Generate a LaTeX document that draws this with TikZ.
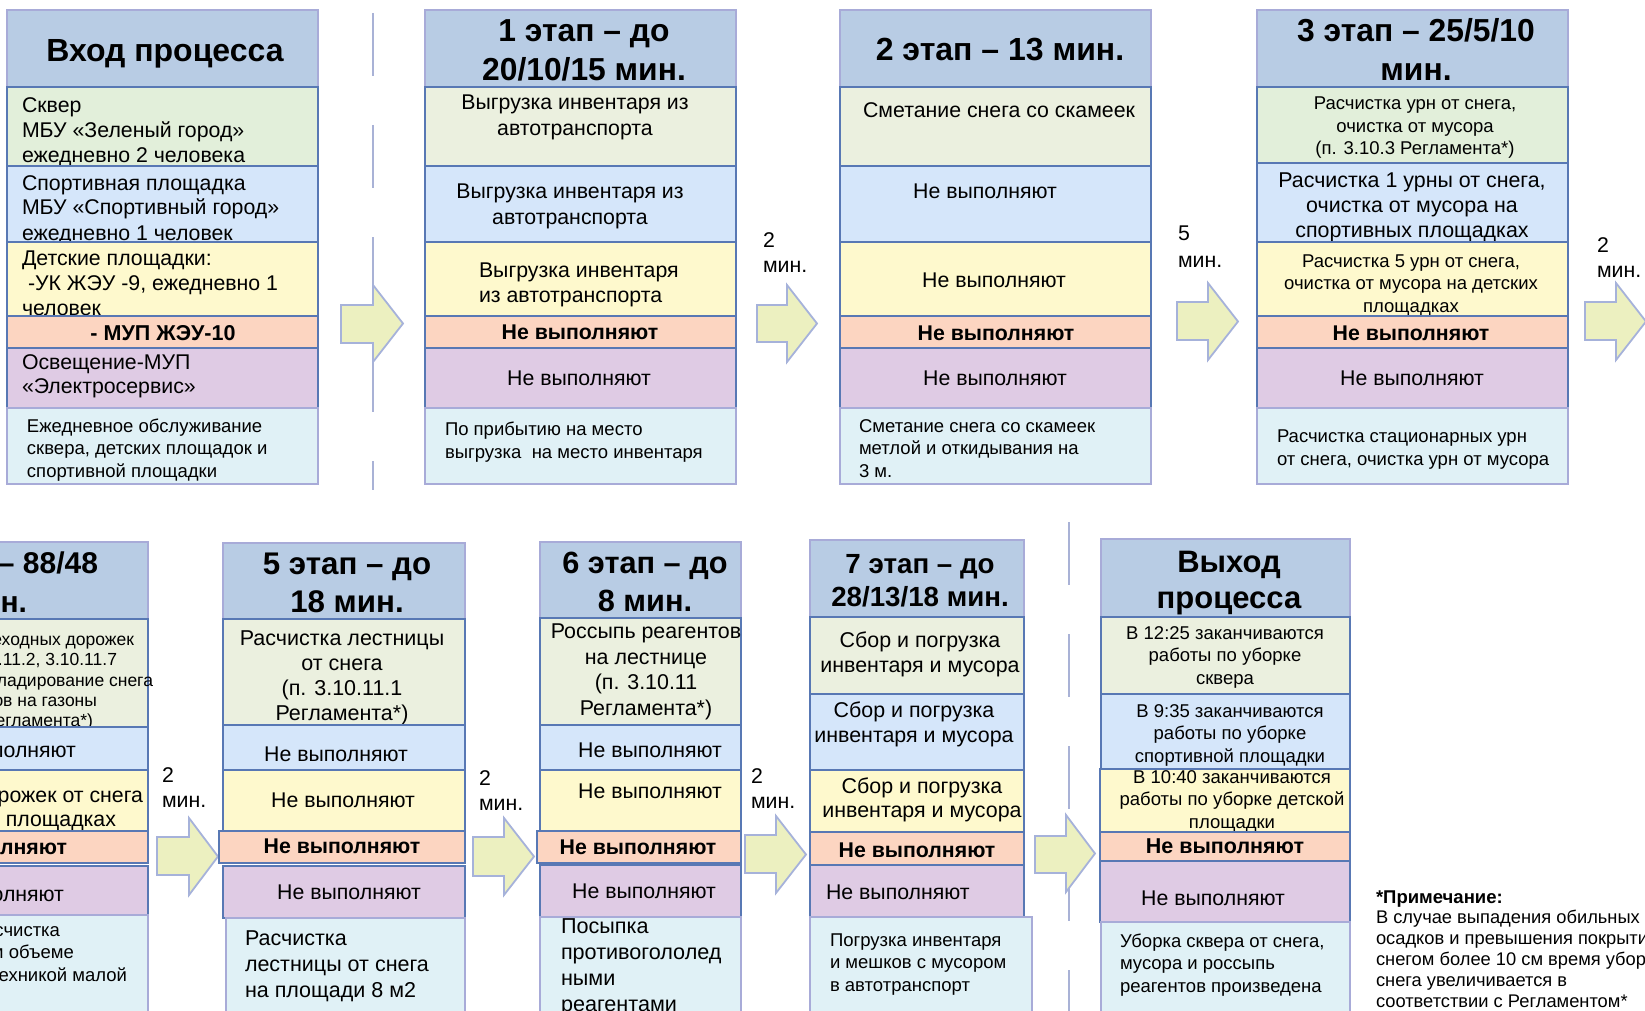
\documentclass[tikz,border=0pt]{standalone}
\usepackage{fontspec}
\setmainfont{Liberation Sans}
\definecolor{hdrfill}{HTML}{B8CCE4}
\definecolor{hdrline}{HTML}{A8ABD8}
\definecolor{grnA}{HTML}{E2EFDA}
\definecolor{grnB}{HTML}{EBF0DF}
\definecolor{bluf}{HTML}{D5E6FA}
\definecolor{yelf}{HTML}{FEF9CD}
\definecolor{orgf}{HTML}{FCD5C1}
\definecolor{purf}{HTML}{DFCBE4}
\definecolor{cynf}{HTML}{E0F1F6}
\definecolor{bandline}{HTML}{5878B4}
\definecolor{arrf}{HTML}{ECF0C0}
\definecolor{arrl}{HTML}{A6B2DA}
\definecolor{sepl}{HTML}{A9B2D6}
\newcommand\fsz[2]{\fontsize{#1}{#2}\selectfont}
\newcommand\blkarrow[7]{\draw[barrow] (#1,#4) -- (#2,#4) -- (#2,#6) -- (#3,{(#6+#7)/2}) -- (#2,#7) -- (#2,#5) -- (#1,#5) -- cycle;}
\begin{document}
\begin{tikzpicture}[x=1pt,y=-1pt,
  hdr/.style={fill=hdrfill,draw=hdrline,line width=1.8pt},
  bnd/.style={draw=bandline,line width=1.1pt},
  cyn/.style={fill=cynf,draw=hdrline,line width=1.8pt},
  barrow/.style={fill=arrf,draw=arrl,line width=1.8pt,line join=miter},
  sepline/.style={draw=sepl,line width=2pt,dash pattern=on 63pt off 49pt},
  txt/.style={inner sep=0pt,outer sep=0pt,font=\fsz{21.3}{25}},
  tc/.style={txt,anchor=base,align=center},
  tl/.style={txt,anchor=base west,align=left},
  tr/.style={txt,anchor=base east,align=right},
  hf/.style={font=\bfseries\fsz{31.8}{39}},
  bf/.style={font=\bfseries\fsz{21.3}{24}},
  sm/.style={font=\fsz{18.5}{22.5}}
]
% note: y of a multi-line node = baseline of its LAST line
\useasboundingbox (0,0) rectangle (1645,1011);
\clip (0,0) rectangle (1645,1011);

% separators
\draw[sepline] (373,13) -- (373,490);
\draw[sepline] (1069,522) -- (1069,1040);

% ---------- Column A: input ----------
\draw[hdr] (7,10) rectangle (318,87);
\node[tc,font=\bfseries\fsz{32}{38}] (aH) at (165,62) {Вход процесса};
\draw[bnd,fill=grnA] (7,87) rectangle (318,166);
\node[tl] (aG) at (22,163) {Сквер\\МБУ «Зеленый город»\\ежедневно 2 человека};
\draw[bnd,fill=bluf] (7,166) rectangle (318,242);
\node[tl] (aB) at (22,240) {Спортивная площадка\\МБУ «Спортивный город»\\ежедневно 1 человек};
\draw[bnd,fill=yelf] (7,242) rectangle (318,316);
\node[tl] (aY) at (22,315) {Детские площадки:\\\hspace*{6pt}-УК ЖЭУ -9, ежедневно 1\\человек};
\draw[bnd,fill=orgf] (7,316) rectangle (318,348);
\node[tc,font=\bfseries\fsz{21.5}{25}] (aO) at (163,340) {- МУП ЖЭУ-10};
\draw[bnd,fill=purf] (7,348) rectangle (318,408);
\node[tl,font=\fsz{21.3}{24}] (aP) at (22,393) {Освещение-МУП\\«Электросервис»};
\draw[cyn] (7,408) rectangle (318,484);
\node[tl,sm] (aC) at (27,477) {Ежедневное обслуживание\\сквера, детских площадок и\\спортивной площадки};

\blkarrow{341}{373}{403}{305}{343}{285}{362}

% ---------- Column 1 ----------
\draw[hdr] (425,10) rectangle (736,87);
\node[tc,hf] (b1H) at (584,81) {1 этап – до\\20/10/15 мин.};
\draw[bnd,fill=grnB] (425,87) rectangle (736,166);
\node[tc,font=\fsz{21.3}{26}] (b1G) at (575,136) {Выгрузка инвентаря из\\автотранспорта};
\draw[bnd,fill=bluf] (425,166) rectangle (736,242);
\node[tc,font=\fsz{21.3}{26}] (b1B) at (570,224) {Выгрузка инвентаря из\\автотранспорта};
\draw[bnd,fill=yelf] (425,242) rectangle (736,316);
\node[tl] (b1Y) at (479,302) {Выгрузка инвентаря\\из автотранспорта};
\draw[bnd,fill=orgf] (425,316) rectangle (736,348);
\node[tc,bf] (b1O) at (580,339) {Не выполняют};
\draw[bnd,fill=purf] (425,348) rectangle (736,408);
\node[tc] (b1P) at (579,385) {Не выполняют};
\draw[cyn] (425,408) rectangle (736,484);
\node[tl,sm] (b1C) at (445,458) {По прибытию на место\\выгрузка\ \ на место инвентаря};

\node[tl] (m1) at (763,272) {2\\мин.};
\blkarrow{757}{787}{817}{305}{342}{285}{362}

% ---------- Column 2 ----------
\draw[hdr] (840,10) rectangle (1151,87);
\node[tc,font=\bfseries\fsz{32}{38}] (b2H) at (1000,61) {2 этап – 13 мин.};
\draw[bnd,fill=grnB] (840,87) rectangle (1151,166);
\node[tc] (b2G) at (999,118) {Сметание снега со скамеек};
\draw[bnd,fill=bluf] (840,166) rectangle (1151,242);
\node[tc] (b2B) at (985,198) {Не выполняют};
\draw[bnd,fill=yelf] (840,242) rectangle (1151,316);
\node[tc] (b2Y) at (994,287) {Не выполняют};
\draw[bnd,fill=orgf] (840,316) rectangle (1151,348);
\node[tc,bf] (b2O) at (996,340) {Не выполняют};
\draw[bnd,fill=purf] (840,348) rectangle (1151,408);
\node[tc] (b2P) at (995,385) {Не выполняют};
\draw[cyn] (840,408) rectangle (1151,484);
\node[tl,sm] (b2C) at (859,477) {Сметание снега со скамеек\\метлой и откидывания на\\3 м.};

\node[tl,font=\fsz{21.3}{27}] (m2) at (1178,267) {5\\мин.};
\blkarrow{1177}{1208}{1238}{302}{340}{283}{360}

% ---------- Column 3 ----------
\draw[hdr] (1257,10) rectangle (1568,87);
\node[tc,hf] (b3H) at (1416,81) {3 этап – 25/5/10\\мин.};
\draw[bnd,fill=grnA] (1257,87) rectangle (1568,163);
\node[tc,sm] (b3G) at (1415,155) {Расчистка урн от снега,\\очистка от мусора\\(п. 3.10.3 Регламента*)};
\draw[bnd,fill=bluf] (1257,163) rectangle (1568,242);
\node[tc,font=\fsz{21.4}{25}] (b3B) at (1412,237) {Расчистка 1 урны от снега,\\очистка от мусора на\\спортивных площадках};
\draw[bnd,fill=yelf] (1257,242) rectangle (1568,316);
\node[tc,sm] (b3Y) at (1411,312) {Расчистка 5 урн от снега,\\очистка от мусора на детских\\площадках};
\draw[bnd,fill=orgf] (1257,316) rectangle (1568,348);
\node[tc,bf] (b3O) at (1411,340) {Не выполняют};
\draw[bnd,fill=purf] (1257,348) rectangle (1568,408);
\node[tc] (b3P) at (1412,385) {Не выполняют};
\draw[cyn] (1257,408) rectangle (1568,484);
\node[tl,sm] (b3C) at (1277,465) {Расчистка стационарных урн\\от снега, очистка урн от мусора};

\node[tl] (m3) at (1597,277) {2\\мин.};
\blkarrow{1585}{1616}{1646}{302}{340}{283}{360}

% ---------- Column 4 (cut) ----------
\draw[hdr] (-150,542) rectangle (148,619);
\node[tr,font=\bfseries\fsz{30}{39}] (b4H1) at (98,573) {4 этап – 88/48};
\node[tr,font=\bfseries\fsz{30}{39}] (b4H2) at (27,612) {мин.};
\draw[bnd,fill=grnB] (-150,619) rectangle (148,727);
\node[tr,font=\fsz{17.5}{20}] (b4G1) at (134,645) {Расчистка пешеходных дорожек};
\node[tr,font=\fsz{17.5}{20}] (b4G2) at (117,665) {(п. 3.10.11.2, 3.10.11.7};
\node[tr,font=\fsz{17.5}{20}] (b4G3) at (153,686) {складирование снега};
\node[tr,font=\fsz{17.5}{20}] (b4G4) at (97,706) {тротуаров на газоны};
\node[tr,font=\fsz{17.5}{20}] (b4G5) at (93,726) {Регламента*)};
\draw[bnd,fill=bluf] (-150,727) rectangle (148,770);
\node[tr] (b4B) at (76,757) {Не выполняют};
\draw[bnd,fill=yelf] (-150,770) rectangle (148,831);
\node[tr] (b4Y1) at (143,802) {Расчистка дорожек от снега};
\node[tr] (b4Y2) at (116,826) {на детских площадках};
\draw[bnd,fill=orgf] (-150,831) rectangle (148,863);
\node[tr,bf] (b4O) at (67,854) {Не выполняют};
\draw[bnd,fill=purf] (-150,866) rectangle (148,915);
\node[tr] (b4P) at (64,901) {Не выполняют};
\draw[cyn] (-150,915) rectangle (148,1030);
\node[tr,sm] (b4C1) at (60,936) {Расчистка};
\node[tr,sm] (b4C2) at (74,958) {в полном объеме};
\node[tr,sm] (b4C3) at (127,981) {техникой малой};

\node[tl] (m4) at (162,807) {2\\мин.};
\blkarrow{157}{189}{218}{837}{875}{818}{895}

% ---------- Column 5 ----------
\draw[hdr] (223,543) rectangle (465,619);
\node[tc,font=\bfseries\fsz{31.3}{38}] (b5H) at (347,612) {5 этап – до\\18 мин.};
\draw[bnd,fill=grnB] (223,619) rectangle (465,725);
\node[tc,font=\fsz{21.5}{25}] (b5G) at (342,720) {Расчистка лестницы\\от снега\\(п. 3.10.11.1\\Регламента*)};
\draw[bnd,fill=bluf] (223,725) rectangle (465,770);
\node[tc] (b5B) at (336,761) {Не выполняют};
\draw[bnd,fill=yelf] (223,770) rectangle (465,831);
\node[tc] (b5Y) at (343,807) {Не выполняют};
\draw[bnd,fill=orgf] (219,831) rectangle (465,863);
\node[tc,bf] (b5O) at (342,853) {Не выполняют};
\draw[bnd,fill=purf] (223,866) rectangle (465,918);
\node[tc] (b5P) at (349,899) {Не выполняют};
\draw[cyn] (226,918) rectangle (465,1030);
\node[tl,font=\fsz{21.5}{26}] (b5C) at (245,997) {Расчистка\\лестницы от снега\\на площади 8 м2};

\node[tl] (m5) at (479,810) {2\\мин.};
\blkarrow{473}{504}{534}{837}{876}{818}{895}

% ---------- Column 6 ----------
\draw[hdr] (540,542) rectangle (741,618);
\node[tc,font=\bfseries\fsz{30.7}{38}] (b6H) at (645,611) {6 этап – до\\8 мин.};
\draw[bnd,fill=grnB] (540,618) rectangle (741,725);
\node[tc,font=\fsz{21.4}{25.5}] (b6G) at (646,715) {Россыпь реагентов\\на лестнице\\(п. 3.10.11\\Регламента*)};
\draw[bnd,fill=bluf] (540,725) rectangle (741,770);
\node[tc] (b6B) at (650,757) {Не выполняют};
\draw[bnd,fill=yelf] (540,770) rectangle (741,831);
\node[tc] (b6Y) at (650,798) {Не выполняют};
\draw[bnd,fill=orgf] (537,831) rectangle (741,863);
\node[tc,bf] (b6O) at (638,854) {Не выполняют};
\draw[bnd,fill=purf] (540,865) rectangle (741,917);
\node[tc] (b6P) at (644,898) {Не выполняют};
\draw[cyn] (540,917) rectangle (741,1030);
\node[tl,font=\fsz{21.6}{26}] (b6C) at (561,1011) {Посыпка\\противогололед\\ными\\реагентами};

\node[tl] (m6) at (751,808) {2\\мин.};
\blkarrow{745}{776}{806}{835}{873}{816}{893}

% ---------- Column 7 ----------
\draw[hdr] (810,540) rectangle (1024,617);
\node[tc,font=\bfseries\fsz{27.7}{33}] (b7H) at (920,606) {7 этап – до\\28/13/18 мин.};
\draw[bnd,fill=grnB] (810,617) rectangle (1024,694);
\node[tc,font=\fsz{21.4}{25}] (b7G) at (920,672) {Сбор и погрузка\\инвентаря и мусора};
\draw[bnd,fill=bluf] (810,694) rectangle (1024,770);
\node[tc,font=\fsz{21.4}{25}] (b7B) at (914,742) {Сбор и погрузка\\инвентаря и мусора};
\draw[bnd,fill=yelf] (810,770) rectangle (1024,832);
\node[tc,font=\fsz{21.4}{24}] (b7Y) at (922,817) {Сбор и погрузка\\инвентаря и мусора};
\draw[bnd,fill=orgf] (810,832) rectangle (1024,865);
\node[tc,bf] (b7O) at (917,857) {Не выполняют};
\draw[bnd,fill=purf] (810,865) rectangle (1024,917);
\node[tl] (b7P) at (826,899) {Не выполняют};
\draw[cyn] (810,917) rectangle (1032,1030);
\node[tl,sm] (b7C) at (830,991) {Погрузка инвентаря\\и мешков с мусором\\в автотранспорт};

\blkarrow{1035}{1066}{1095}{836}{873}{815}{892}

% ---------- Exit column ----------
\draw[hdr] (1101,539) rectangle (1350,617);
\node[tc,font=\bfseries\fsz{31}{36}] (eH) at (1229,608) {Выход\\процесса};
\draw[bnd,fill=grnB] (1101,617) rectangle (1350,694);
\node[tc,font=\fsz{18.5}{22.5}] (eG) at (1225,684) {В 12:25 заканчиваются\\работы по уборке\\сквера};
\draw[bnd,fill=bluf] (1101,694) rectangle (1350,769);
\node[tc,font=\fsz{18.5}{22.5}] (eB) at (1230,762) {В 9:35 заканчиваются\\работы по уборке\\спортивной площадки};
\draw[bnd,fill=yelf] (1100,769) rectangle (1350,832);
\node[tc,font=\fsz{18.5}{22.5}] (eY) at (1232,828) {В 10:40 заканчиваются\\работы по уборке детской\\площадки};
\draw[bnd,fill=orgf] (1100,832) rectangle (1350,861);
\node[tc,font=\bfseries\fsz{21.5}{25}] (eO) at (1225,853) {Не выполняют};
\draw[bnd,fill=purf] (1100,861) rectangle (1350,922);
\node[tc] (eP) at (1213,905) {Не выполняют};
\draw[cyn] (1101,922) rectangle (1350,1030);
\node[tl,font=\fsz{18.5}{22.5}] (eC) at (1120,992) {Уборка сквера от снега,\\мусора и россыпь\\реагентов произведена};

% ---------- Note ----------
\node[tl,font=\bfseries\fsz{18.5}{21}] (nH) at (1376,903) {*Примечание:};
\node[tl,font=\fsz{18.3}{20.8}] (nT) at (1376,1007) {В случае выпадения обильных\\осадков и превышения покрытия\\снегом более 10 см время уборки\\снега увеличивается в\\соответствии с Регламентом*};
\end{tikzpicture}
\end{document}
